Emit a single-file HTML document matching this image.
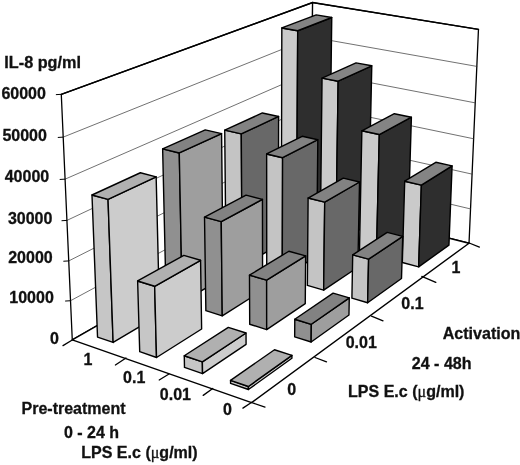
<!DOCTYPE html>
<html><head><meta charset="utf-8"><title>IL-8 chart</title>
<style>
html,body{margin:0;padding:0;background:#fff;}
body{width:520px;height:465px;overflow:hidden;}
svg{display:block;}
text{font-family:"Liberation Sans",sans-serif;font-weight:bold;fill:#111;stroke:#111;stroke-width:0.3px;}
</style></head><body>
<svg width="520" height="465" viewBox="0 0 520 465">
<rect x="0" y="0" width="520" height="465" fill="#fff"/>
<polygon points="72.27,339.83 61.28,94.33 312.59,2.55 310.78,203.39" fill="#fff" stroke="#000" stroke-width="1.3" stroke-linejoin="round" />
<polygon points="310.78,203.39 312.59,2.55 478.46,29.37 469.02,243.21" fill="#fff" stroke="#000" stroke-width="1.3" stroke-linejoin="round" />
<polygon points="72.27,339.83 251.59,402.61 469.02,243.21 310.78,203.39" fill="#fff" stroke="#000" stroke-width="1.4" stroke-linejoin="round" />
<line x1="61.28" y1="94.33" x2="312.59" y2="2.55" stroke="#000" stroke-width="1.5" stroke-linecap="round"/>
<line x1="312.59" y1="2.55" x2="478.46" y2="29.37" stroke="#000" stroke-width="1.5" stroke-linecap="round"/>
<line x1="70.52" y1="300.73" x2="311.07" y2="171.10" stroke="#333" stroke-width="0.7" stroke-linecap="round"/>
<line x1="311.07" y1="171.10" x2="470.54" y2="208.93" stroke="#333" stroke-width="0.7" stroke-linecap="round"/>
<line x1="68.74" y1="260.92" x2="311.37" y2="138.35" stroke="#333" stroke-width="0.7" stroke-linecap="round"/>
<line x1="311.37" y1="138.35" x2="472.07" y2="174.12" stroke="#333" stroke-width="0.7" stroke-linecap="round"/>
<line x1="66.93" y1="220.40" x2="311.67" y2="105.13" stroke="#333" stroke-width="0.7" stroke-linecap="round"/>
<line x1="311.67" y1="105.13" x2="473.63" y2="138.77" stroke="#333" stroke-width="0.7" stroke-linecap="round"/>
<line x1="65.08" y1="179.14" x2="311.97" y2="71.43" stroke="#333" stroke-width="0.7" stroke-linecap="round"/>
<line x1="311.97" y1="71.43" x2="475.22" y2="102.87" stroke="#333" stroke-width="0.7" stroke-linecap="round"/>
<line x1="63.20" y1="137.13" x2="312.27" y2="37.24" stroke="#333" stroke-width="0.7" stroke-linecap="round"/>
<line x1="312.27" y1="37.24" x2="476.82" y2="66.41" stroke="#333" stroke-width="0.7" stroke-linecap="round"/>
<line x1="70.52" y1="300.73" x2="65.52" y2="301.03" stroke="#000" stroke-width="1.0" stroke-linecap="round"/>
<line x1="68.74" y1="260.92" x2="63.74" y2="261.22" stroke="#000" stroke-width="1.0" stroke-linecap="round"/>
<line x1="66.93" y1="220.40" x2="61.93" y2="220.70" stroke="#000" stroke-width="1.0" stroke-linecap="round"/>
<line x1="65.08" y1="179.14" x2="60.08" y2="179.44" stroke="#000" stroke-width="1.0" stroke-linecap="round"/>
<line x1="63.20" y1="137.13" x2="58.20" y2="137.43" stroke="#000" stroke-width="1.0" stroke-linecap="round"/>
<line x1="61.28" y1="94.33" x2="56.28" y2="94.63" stroke="#000" stroke-width="1.0" stroke-linecap="round"/>
<line x1="72.25" y1="340.00" x2="63.00" y2="345.60" stroke="#000" stroke-width="1.3" stroke-linecap="round"/>
<line x1="126.00" y1="358.00" x2="115.40" y2="365.00" stroke="#000" stroke-width="1.3" stroke-linecap="round"/>
<line x1="169.00" y1="374.00" x2="159.20" y2="380.00" stroke="#000" stroke-width="1.3" stroke-linecap="round"/>
<line x1="212.70" y1="388.50" x2="203.20" y2="395.40" stroke="#000" stroke-width="1.3" stroke-linecap="round"/>
<line x1="251.40" y1="402.50" x2="242.90" y2="408.10" stroke="#000" stroke-width="1.3" stroke-linecap="round"/>
<line x1="251.40" y1="402.50" x2="265.00" y2="407.10" stroke="#000" stroke-width="1.3" stroke-linecap="round"/>
<line x1="315.00" y1="357.50" x2="326.50" y2="361.80" stroke="#000" stroke-width="1.3" stroke-linecap="round"/>
<line x1="371.50" y1="316.20" x2="383.00" y2="320.80" stroke="#000" stroke-width="1.3" stroke-linecap="round"/>
<line x1="421.80" y1="276.40" x2="435.80" y2="282.40" stroke="#000" stroke-width="1.3" stroke-linecap="round"/>
<line x1="469.20" y1="243.00" x2="479.40" y2="247.10" stroke="#000" stroke-width="1.3" stroke-linecap="round"/>
<polygon points="281.32,230.03 281.83,27.95 297.70,30.73 296.51,234.08" fill="#cacaca" stroke="#000" stroke-width="1.4" stroke-linejoin="round" />
<polygon points="296.51,234.08 297.70,30.73 331.76,17.50 329.19,214.64" fill="#2e2e2e" stroke="#000" stroke-width="1.4" stroke-linejoin="round" />
<polygon points="281.83,27.95 297.70,30.73 331.76,17.50 316.20,14.91" fill="#848484" stroke="#000" stroke-width="1.4" stroke-linejoin="round" />
<polygon points="320.24,240.59 322.05,78.10 338.15,81.23 335.77,244.74" fill="#cacaca" stroke="#000" stroke-width="1.4" stroke-linejoin="round" />
<polygon points="335.77,244.74 338.15,81.23 371.78,65.80 368.34,224.18" fill="#2e2e2e" stroke="#000" stroke-width="1.4" stroke-linejoin="round" />
<polygon points="322.05,78.10 338.15,81.23 371.78,65.80 356.01,62.89" fill="#848484" stroke="#000" stroke-width="1.4" stroke-linejoin="round" />
<polygon points="359.47,251.17 361.86,130.78 379.30,134.51 376.43,255.71" fill="#cacaca" stroke="#000" stroke-width="1.4" stroke-linejoin="round" />
<polygon points="376.43,255.71 379.30,134.51 411.40,117.21 407.82,234.62" fill="#2e2e2e" stroke="#000" stroke-width="1.4" stroke-linejoin="round" />
<polygon points="361.86,130.78 379.30,134.51 411.40,117.21 394.35,113.73" fill="#848484" stroke="#000" stroke-width="1.4" stroke-linejoin="round" />
<polygon points="402.32,262.50 404.71,181.21 421.37,185.08 418.66,266.87" fill="#cacaca" stroke="#000" stroke-width="1.4" stroke-linejoin="round" />
<polygon points="418.66,266.87 421.37,185.08 452.09,165.90 448.94,245.14" fill="#2e2e2e" stroke="#000" stroke-width="1.4" stroke-linejoin="round" />
<polygon points="404.71,181.21 421.37,185.08 452.09,165.90 435.81,162.30" fill="#848484" stroke="#000" stroke-width="1.4" stroke-linejoin="round" />
<polygon points="226.01,261.83 224.73,130.13 241.28,133.90 242.10,266.47" fill="#c4c4c4" stroke="#000" stroke-width="1.4" stroke-linejoin="round" />
<polygon points="242.10,266.47 241.28,133.90 278.61,116.47 278.37,244.89" fill="#686868" stroke="#000" stroke-width="1.4" stroke-linejoin="round" />
<polygon points="224.73,130.13 241.28,133.90 278.61,116.47 262.38,112.97" fill="#828282" stroke="#000" stroke-width="1.4" stroke-linejoin="round" />
<polygon points="266.74,273.31 266.65,153.99 282.58,157.72 282.25,277.79" fill="#c4c4c4" stroke="#000" stroke-width="1.4" stroke-linejoin="round" />
<polygon points="282.25,277.79 282.58,157.72 317.82,139.74 316.61,256.13" fill="#686868" stroke="#000" stroke-width="1.4" stroke-linejoin="round" />
<polygon points="266.65,153.99 282.58,157.72 317.82,139.74 302.20,136.27" fill="#828282" stroke="#000" stroke-width="1.4" stroke-linejoin="round" />
<polygon points="307.37,285.44 308.11,198.02 324.71,202.16 323.65,290.15" fill="#c4c4c4" stroke="#000" stroke-width="1.4" stroke-linejoin="round" />
<polygon points="323.65,290.15 324.71,202.16 359.53,182.00 357.86,267.21" fill="#686868" stroke="#000" stroke-width="1.4" stroke-linejoin="round" />
<polygon points="308.11,198.02 324.71,202.16 359.53,182.00 343.28,178.15" fill="#828282" stroke="#000" stroke-width="1.4" stroke-linejoin="round" />
<polygon points="351.91,298.18 352.70,254.90 368.60,259.19 367.64,302.73" fill="#c4c4c4" stroke="#000" stroke-width="1.4" stroke-linejoin="round" />
<polygon points="367.64,302.73 368.60,259.19 402.74,236.32 401.50,278.46" fill="#686868" stroke="#000" stroke-width="1.4" stroke-linejoin="round" />
<polygon points="352.70,254.90 368.60,259.19 402.74,236.32 387.21,232.35" fill="#828282" stroke="#000" stroke-width="1.4" stroke-linejoin="round" />
<polygon points="166.09,297.09 162.64,148.89 179.28,152.95 182.22,302.16" fill="#909090" stroke="#000" stroke-width="1.4" stroke-linejoin="round" />
<polygon points="182.22,302.16 179.28,152.95 221.57,133.59 223.08,277.84" fill="#9e9e9e" stroke="#000" stroke-width="1.4" stroke-linejoin="round" />
<polygon points="162.64,148.89 179.28,152.95 221.57,133.59 205.25,129.84" fill="#828282" stroke="#000" stroke-width="1.4" stroke-linejoin="round" />
<polygon points="205.87,310.64 204.52,217.10 221.25,221.63 222.26,315.80" fill="#909090" stroke="#000" stroke-width="1.4" stroke-linejoin="round" />
<polygon points="222.26,315.80 221.25,221.63 262.44,199.35 262.59,290.37" fill="#9e9e9e" stroke="#000" stroke-width="1.4" stroke-linejoin="round" />
<polygon points="204.52,217.10 221.25,221.63 262.44,199.35 246.05,195.16" fill="#828282" stroke="#000" stroke-width="1.4" stroke-linejoin="round" />
<polygon points="249.70,324.23 249.48,275.17 266.64,280.18 266.68,329.57" fill="#909090" stroke="#000" stroke-width="1.4" stroke-linejoin="round" />
<polygon points="266.68,329.57 266.64,280.18 305.64,255.88 305.26,303.65" fill="#9e9e9e" stroke="#000" stroke-width="1.4" stroke-linejoin="round" />
<polygon points="249.48,275.17 266.64,280.18 305.64,255.88 288.84,251.25" fill="#828282" stroke="#000" stroke-width="1.4" stroke-linejoin="round" />
<polygon points="294.68,336.86 294.78,319.24 311.31,324.30 311.15,342.03" fill="#909090" stroke="#000" stroke-width="1.4" stroke-linejoin="round" />
<polygon points="311.15,342.03 311.31,324.30 349.27,297.82 348.97,314.96" fill="#9e9e9e" stroke="#000" stroke-width="1.4" stroke-linejoin="round" />
<polygon points="294.78,319.24 311.31,324.30 349.27,297.82 333.12,293.16" fill="#828282" stroke="#000" stroke-width="1.4" stroke-linejoin="round" />
<polygon points="97.54,337.09 91.99,195.00 108.05,199.41 113.13,342.46" fill="#c6c6c6" stroke="#000" stroke-width="1.4" stroke-linejoin="round" />
<polygon points="113.13,342.46 108.05,199.41 156.15,176.82 159.58,314.85" fill="#cccccc" stroke="#000" stroke-width="1.4" stroke-linejoin="round" />
<polygon points="91.99,195.00 108.05,199.41 156.15,176.82 140.38,172.76" fill="#b0b0b0" stroke="#000" stroke-width="1.4" stroke-linejoin="round" />
<polygon points="139.72,351.68 137.63,280.98 154.68,286.28 156.52,357.47" fill="#c6c6c6" stroke="#000" stroke-width="1.4" stroke-linejoin="round" />
<polygon points="156.52,357.47 154.68,286.28 200.57,260.29 201.63,329.02" fill="#cccccc" stroke="#000" stroke-width="1.4" stroke-linejoin="round" />
<polygon points="137.63,280.98 154.68,286.28 200.57,260.29 183.84,255.42" fill="#b0b0b0" stroke="#000" stroke-width="1.4" stroke-linejoin="round" />
<polygon points="184.49,367.40 184.27,355.78 202.36,361.92 202.54,373.62" fill="#c6c6c6" stroke="#000" stroke-width="1.4" stroke-linejoin="round" />
<polygon points="202.54,373.62 202.36,361.92 246.02,333.02 246.09,344.32" fill="#cccccc" stroke="#000" stroke-width="1.4" stroke-linejoin="round" />
<polygon points="184.27,355.78 202.36,361.92 246.02,333.02 228.31,327.37" fill="#b0b0b0" stroke="#000" stroke-width="1.4" stroke-linejoin="round" />
<polygon points="230.58,383.37 230.55,380.34 248.40,386.47 248.42,389.52" fill="#c6c6c6" stroke="#000" stroke-width="1.4" stroke-linejoin="round" />
<polygon points="248.42,389.52 248.40,386.47 291.93,355.35 291.91,358.28" fill="#cccccc" stroke="#000" stroke-width="1.4" stroke-linejoin="round" />
<polygon points="230.55,380.34 248.40,386.47 291.93,355.35 274.48,349.72" fill="#b0b0b0" stroke="#000" stroke-width="1.4" stroke-linejoin="round" />
<g>
<text transform="translate(4.3,68.3) scale(1.015,1)" text-anchor="start" font-size="16">IL-8 pg/ml</text>
<text transform="translate(45.9,98.6) scale(1.000,1)" text-anchor="end" font-size="16">60000</text>
<text transform="translate(46.9,141.0) scale(1.000,1)" text-anchor="end" font-size="16">50000</text>
<text transform="translate(49.2,182.0) scale(1.000,1)" text-anchor="end" font-size="16">40000</text>
<text transform="translate(52.4,224.4) scale(1.000,1)" text-anchor="end" font-size="16">30000</text>
<text transform="translate(52.7,262.9) scale(1.000,1)" text-anchor="end" font-size="16">20000</text>
<text transform="translate(53.8,303.2) scale(1.000,1)" text-anchor="end" font-size="16">10000</text>
<text transform="translate(58.8,344.3) scale(1.000,1)" text-anchor="end" font-size="16">0</text>
<text transform="translate(92.5,365.0) scale(1.000,1)" text-anchor="end" font-size="16">1</text>
<text transform="translate(145.3,382.7) scale(1.000,1)" text-anchor="end" font-size="16">0.1</text>
<text transform="translate(191.0,399.5) scale(1.000,1)" text-anchor="end" font-size="16">0.01</text>
<text transform="translate(231.9,414.8) scale(1.000,1)" text-anchor="end" font-size="16">0</text>
<text transform="translate(460.3,273.0) scale(1.000,1)" text-anchor="end" font-size="16">1</text>
<text transform="translate(423.6,308.7) scale(1.000,1)" text-anchor="end" font-size="16">0.1</text>
<text transform="translate(376.8,348.4) scale(1.000,1)" text-anchor="end" font-size="16">0.01</text>
<text transform="translate(296.2,394.6) scale(1.000,1)" text-anchor="end" font-size="16">0</text>
<text transform="translate(21.5,413.8) scale(1.000,1)" text-anchor="start" font-size="16">Pre-treatment</text>
<text transform="translate(64.0,438.0) scale(1.000,1)" text-anchor="start" font-size="16">0 - 24 h</text>
<text transform="translate(81.2,458.3) scale(1.003,1)" text-anchor="start" font-size="16">LPS E.c (<tspan font-weight="normal" font-family="'Liberation Serif','DejaVu Serif',serif">μ</tspan>g/ml)</text>
<text transform="translate(442.7,339.0) scale(1.005,1)" text-anchor="start" font-size="16">Activation</text>
<text transform="translate(411.8,369.2) scale(1.003,1)" text-anchor="start" font-size="16">24 - 48h</text>
<text transform="translate(348.0,396.6) scale(1.003,1)" text-anchor="start" font-size="16">LPS E.c (<tspan font-weight="normal" font-family="'Liberation Serif','DejaVu Serif',serif">μ</tspan>g/ml)</text>
</g>
</svg>
</body></html>
